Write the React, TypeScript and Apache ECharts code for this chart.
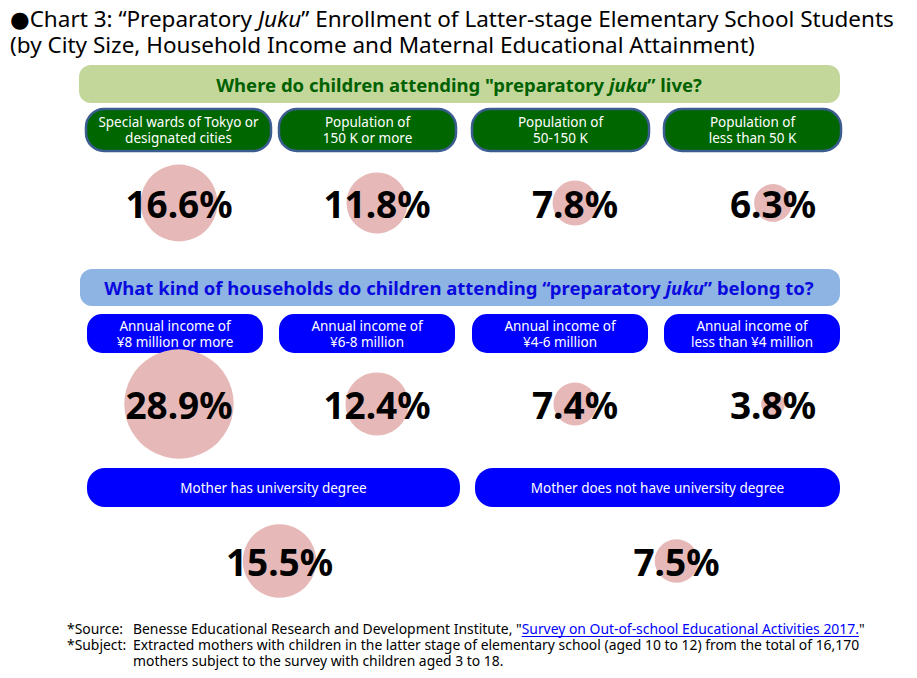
import React, { useEffect, useRef } from "react";
import * as echarts from "echarts";

// ---- Data ----
const cityCategories = [
  "Special wards of Tokyo or\ndesignated cities",
  "Population of\n150 K or more",
  "Population of\n50-150 K",
  "Population of\nless than 50 K",
];
const cityValues = [16.6, 11.8, 7.8, 6.3];

const incomeCategories = [
  "Annual income of\n¥8 million or more",
  "Annual income of\n¥6-8 million",
  "Annual income of\n¥4-6 million",
  "Annual income of\nless than ¥4 million",
];
const incomeValues = [28.9, 12.4, 7.4, 3.8];

const educationCategories = [
  "Mother has university degree",
  "Mother does not have university degree",
];
const educationValues = [15.5, 7.5];

const rowQuestions = [
  "Where do children attending \"preparatory juku\" live?",
  "What kind of households do children attending “preparatory juku” belong to?",
  "Maternal educational attainment",
];

const sourceLabel = "*Source:";
const sourceText = "Benesse Educational Research and Development Institute, \"";
const sourceLink = "Survey on Out-of-school Educational Activities 2017.";
const sourceEnd = "\"";
const subjectLabel = "*Subject:";
const subjectLines = [
  "Extracted mothers with children in the latter stage of elementary school (aged 10 to 12) from the total of 16,170",
  "mothers subject to the survey with children aged 3 to 18.",
];

const FONT = "'Noto Sans', 'DejaVu Sans', sans-serif";
const BUBBLE = "#E6B9B8";

function bubbleSize(v: number) {
  return 25 * (Math.sqrt(v) - 1);
}

function measure(text: string, font: string) {
  const c = document.createElement("canvas");
  const ctx = c.getContext("2d")!;
  ctx.font = font;
  return ctx.measureText(text).width;
}

export default function App() {
  const ref = useRef<HTMLDivElement>(null);

  useEffect(() => {
    document.body.style.margin = "0";
    const chart = echarts.init(ref.current!, undefined, { renderer: "svg" });

    const pill = (
      x: number, y: number, w: number, h: number, r: number,
      fill: string, text: string, stroke?: string
    ) => ({
      type: "group",
      children: [
        {
          type: "rect",
          shape: { x, y, width: w, height: h, r },
          style: { fill, stroke: stroke || fill, lineWidth: stroke ? 2.5 : 0 },
        },
        {
          type: "text",
          x: x + w / 2,
          y: y + h / 2,
          style: {
            text,
            fill: "#ffffff",
            font: `13.5px ${FONT}`,
            align: "center",
            verticalAlign: "middle",
            lineHeight: 16,
          },
        },
      ],
    });

    const row1X = [86, 279, 472, 664];
    const row1W = [185, 177, 177, 177];
    const row2X = [87, 279, 472, 664];
    const row3X = [87, 475];
    const row3W = [373, 365];

    const graphics: any[] = [];
    // title (two lines in one text)
    graphics.push({
      type: "text",
      x: 10,
      y: 31,
      style: {
        text:
          "{n|●Chart 3: “Preparatory }{i|Juku}{n|” Enrollment of Latter-stage Elementary School Students}\n" +
          "{n|(by City Size, Household Income and Maternal Educational Attainment)}",
        font: `22.5px ${FONT}`,
        fill: "#000",
        verticalAlign: "middle",
        lineHeight: 26,
        rich: {
          n: { fontSize: 22.5, fontFamily: FONT, lineHeight: 26, fill: "#000" },
          i: { fontStyle: "italic", fontSize: 22.5, fontFamily: FONT, lineHeight: 26, fill: "#000" },
        },
      },
    });

    // banner 1
    graphics.push({
      type: "rect",
      shape: { x: 79, y: 65, width: 761, height: 38, r: 12 },
      style: { fill: "#C4D79B" },
    });
    graphics.push({
      type: "text",
      x: 459,
      y: 84,
      style: {
        text: "Where do children attending \"preparatory {i|juku}” live?",
        font: `bold 18.5px ${FONT}`,
        fill: "#006100",
        align: "center",
        verticalAlign: "middle",
        rich: { i: { fontStyle: "italic", fontWeight: "bold", fontSize: 18.5, fontFamily: FONT, fill: "#006100" } },
      },
    });
    cityCategories.forEach((c, i) => {
      graphics.push(pill(row1X[i], 109, row1W[i], 42, 18, "#006600", c, "#3B5D8F"));
    });

    // banner 2
    graphics.push({
      type: "rect",
      shape: { x: 80, y: 269, width: 760, height: 37, r: 12 },
      style: { fill: "#8EB4E3" },
    });
    graphics.push({
      type: "text",
      x: 459,
      y: 287,
      style: {
        text: "What kind of households do children attending “preparatory {i|juku}” belong to?",
        font: `bold 18.5px ${FONT}`,
        fill: "#0A0ADF",
        align: "center",
        verticalAlign: "middle",
        rich: { i: { fontStyle: "italic", fontWeight: "bold", fontSize: 18.5, fontFamily: FONT, fill: "#0A0ADF" } },
      },
    });
    incomeCategories.forEach((c, i) => {
      graphics.push(pill(row2X[i], 314, 176, 39, 15, "#0000FF", c));
    });
    educationCategories.forEach((c, i) => {
      graphics.push(pill(row3X[i], 468, row3W[i], 39, 18, "#0000FF", c));
    });

    // footnotes
    const fs = 13.9;
    const fnFont = `${fs}px ${FONT}`;
    graphics.push({
      type: "text",
      x: 67,
      y: 620,
      style: {
        text: `${sourceLabel}\n${subjectLabel}`,
        font: fnFont,
        fill: "#000",
        verticalAlign: "top",
        lineHeight: 16,
      },
    });
    const sx = 133;
    const w1 = measure(sourceText, `${fs}px 'Noto Sans'`);
    const w2 = measure(sourceLink, `${fs}px 'Noto Sans'`);
    graphics.push({
      type: "text",
      x: sx,
      y: 620,
      style: {
        text:
          `{a|${sourceText}}{l|${sourceLink}}{a|${sourceEnd}}\n` +
          subjectLines.map((l) => `{a|${l}}`).join("\n"),
        font: fnFont,
        fill: "#000",
        verticalAlign: "top",
        lineHeight: 16,
        rich: {
          a: { fontSize: fs, fontFamily: FONT, fill: "#000", lineHeight: 16 },
          l: { fontSize: fs, fontFamily: FONT, fill: "#0000FF", lineHeight: 16 },
        },
      },
    });
    graphics.push({
      type: "line",
      shape: { x1: sx + w1, y1: 636.5, x2: sx + w1 + w2, y2: 636.5 },
      style: { stroke: "#0000FF", lineWidth: 1 },
    });

    const grids = [
      { left: 80, width: 792, top: 163, height: 80 },
      { left: 80, width: 792, top: 364, height: 80 },
      { left: 81, width: 794, top: 521, height: 80 },
    ];
    const cats = [cityCategories, incomeCategories, educationCategories];
    const vals = [cityValues, incomeValues, educationValues];

    const option: any = {
      animation: false,
      backgroundColor: "#ffffff",
      grid: grids,
      xAxis: cats.map((c, i) => ({ type: "category", data: c, gridIndex: i, show: false })),
      yAxis: cats.map((_, i) => ({ type: "category", data: [rowQuestions[i]], gridIndex: i, show: false })),
      series: vals.map((v, i) => ({
        type: "scatter",
        xAxisIndex: i,
        yAxisIndex: i,
        data: v.map((val, j) => [cats[i][j], rowQuestions[i], val]),
        symbolSize: (d: any) => bubbleSize(d[2]),
        itemStyle: { color: BUBBLE, opacity: 1 },
        label: {
          show: true,
          position: "inside",
          formatter: (p: any) => `${p.value[2].toFixed(1)}%`,
          color: "#000",
          fontSize: 37,
          fontWeight: "bold",
          fontFamily: FONT,
        },
        emphasis: { disabled: true },
      })),
      graphic: graphics,
    };
    chart.setOption(option);
    return () => chart.dispose();
  }, []);

  return (
    <div
      ref={ref}
      style={{ position: "fixed", left: 0, top: 0, width: 917, height: 678 }}
    />
  );
}
